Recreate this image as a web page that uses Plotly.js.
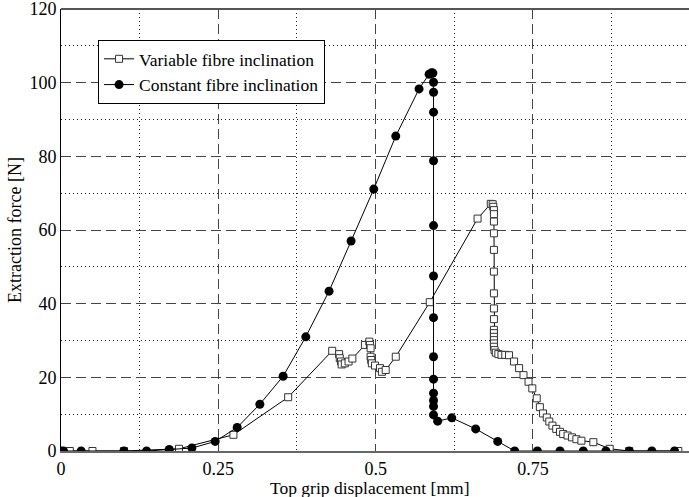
<!DOCTYPE html>
<html>
<head>
<meta charset="utf-8">
<script src="https://cdn.plot.ly/plotly-3.0.1.min.js"></script>
<style>html,body{margin:0;padding:0;background:#fff}#chart{width:689px;height:497px}</style>
</head>
<body>
<div id="chart"></div>
<script>
// Variable fibre inclination (open squares)
const varX = [0, 0.014, 0.05, 0.1, 0.1875, 0.274, 0.361, 0.431, 0.442, 0.443, 0.445, 0.446, 0.451, 0.457, 0.463,
  0.483, 0.490, 0.491, 0.492, 0.492, 0.493, 0.494, 0.499, 0.507, 0.510, 0.516, 0.532, 0.586, 0.662, 0.683,
  0.686, 0.687, 0.688, 0.688, 0.688, 0.688, 0.688, 0.688, 0.688, 0.688, 0.688, 0.688, 0.688, 0.688, 0.688, 0.688, 0.688, 0.689,
  0.691, 0.695, 0.700, 0.706, 0.712, 0.720, 0.728, 0.735, 0.743, 0.749, 0.756, 0.761, 0.766, 0.772, 0.776,
  0.781, 0.787, 0.793, 0.798, 0.805, 0.812, 0.819, 0.827, 0.846, 0.872, 0.903, 0.981];
const varY = [0, 0, 0, 0, 0.6, 4.4, 14.6, 27.2, 26.3, 25.2, 24.3, 23.5, 23.8, 24.3, 25.1,
  28.8, 29.7, 28.8, 27.9, 25.6, 24.7, 23.8, 23.2, 22.5, 21.5, 22.0, 25.6, 40.4, 63.1, 67.1,
  67.0, 66.3, 65.4, 64.3, 62.3, 59.1, 54.6, 48.7, 42.8, 38.7, 35.8, 32.9, 32.0, 31.0, 30.1, 29.2, 28.3, 27.4,
  26.7, 26.3, 26.1, 26.1, 26.0, 24.3, 22.5, 20.6, 18.8, 17.0, 14.3, 11.9, 10.2, 9.1, 8.0,
  6.9, 6.0, 5.2, 4.6, 4.2, 3.7, 3.2, 2.8, 2.4, 0.6, 0, 0];

// Constant fibre inclination (filled circles)
const conX = [0, 0.004, 0.032, 0.1, 0.136, 0.172, 0.208, 0.245, 0.280, 0.316, 0.353, 0.389, 0.426, 0.461, 0.497,
  0.532, 0.569, 0.585, 0.589, 0.591, 0.592, 0.592, 0.592, 0.592, 0.592, 0.592, 0.592, 0.592, 0.592, 0.592, 0.592, 0.592, 0.592,
  0.5986, 0.621, 0.659, 0.694, 0.721, 0.757, 0.793, 0.830, 0.866, 0.903, 0.939, 0.975];
const conY = [0, 0, 0, 0, 0, 0.4, 0.8, 2.6, 6.4, 12.7, 20.3, 31.0, 43.4, 57.0, 71.1,
  85.5, 98.3, 102.3, 102.7, 102.6, 100.1, 97.4, 92.0, 78.8, 61.2, 47.5, 36.2, 25.6, 19.5, 15.7, 13.7, 12.1, 9.8,
  8.1, 9.0, 6.0, 2.6, 0, 0, 0, 0, 0, 0, 0, 0];

// Tick spacing (major / minor grid)
const xTickStep = 0.25, xMinorStep = 0.125;
const yTickStep = 20, yMinorStep = 10;
const xTitle = 'Top grip displacement [mm]';
const yTitle = 'Extraction force [N]';

const fontFam = 'Liberation Serif';

const traces = [
  {
    x: varX, y: varY, type: 'scatter', mode: 'lines+markers',
    name: 'Variable fibre inclination',
    line: {color: '#000', width: 1},
    marker: {symbol: 'square', size: 7, color: '#fff', line: {color: '#333', width: 1}}
  },
  {
    x: conX, y: conY, type: 'scatter', mode: 'lines+markers',
    name: 'Constant fibre inclination',
    line: {color: '#000', width: 1},
    marker: {symbol: 'circle', size: 9, color: '#000', line: {width: 0}}
  }
];

const layout = {
  width: 689, height: 497,
  margin: {l: 61, r: 0, t: 9, b: 46},
  paper_bgcolor: '#fff', plot_bgcolor: '#fff',
  font: {family: fontFam, size: 18, color: '#000'},
  showlegend: true,
  legend: {
    x: 0.059, y: 0.93, xanchor: 'left', yanchor: 'top',
    bgcolor: '#fff', bordercolor: '#000', borderwidth: 1,
    font: {family: fontFam, size: 17.5, color: '#000'},
    tracegroupgap: 0, itemwidth: 30
  },
  xaxis: {
    range: [0, 0.998],
    tickmode: 'linear', tick0: 0, dtick: xTickStep,
    showgrid: true, gridcolor: '#444', griddash: '10px,5px', gridwidth: 1,
    minor: {dtick: xMinorStep, tick0: 0, showgrid: true, gridcolor: '#222', griddash: '1px,3px', gridwidth: 1, ticks: ''},
    zeroline: false, showline: true, linecolor: '#666', linewidth: 2,
    ticks: '', ticklen: 0, ticklabeloverflow: 'allow',
    tickfont: {family: fontFam, size: 18},
    title: {text: ''}
  },
  yaxis: {
    range: [0, 120],
    tickmode: 'linear', tick0: 0, dtick: yTickStep,
    showgrid: true, gridcolor: '#444', griddash: '10px,5px', gridwidth: 1,
    minor: {dtick: yMinorStep, tick0: 0, showgrid: true, gridcolor: '#222', griddash: '1px,3px', gridwidth: 1, ticks: ''},
    zeroline: false, showline: true, linecolor: '#000', linewidth: 1,
    ticks: '', ticklen: 0, ticklabeloverflow: 'allow',
    tickfont: {family: fontFam, size: 18},
    title: {text: yTitle, font: {family: fontFam, size: 18}, standoff: 3}
  },
  annotations: [
    {text: xTitle, xref: 'paper', yref: 'paper', x: 0.492, y: -0.083, xanchor: 'center', yanchor: 'middle',
     showarrow: false, font: {family: fontFam, size: 17.5, color: '#000'}}
  ],
  shapes: [
    {type: 'line', xref: 'paper', yref: 'paper', x0: 0, x1: 1, y0: 1, y1: 1, line: {color: '#555', width: 2}}
  ]
};

Plotly.newPlot('chart', traces, layout, {displayModeBar: false, staticPlot: true});
</script>
</body>
</html>
